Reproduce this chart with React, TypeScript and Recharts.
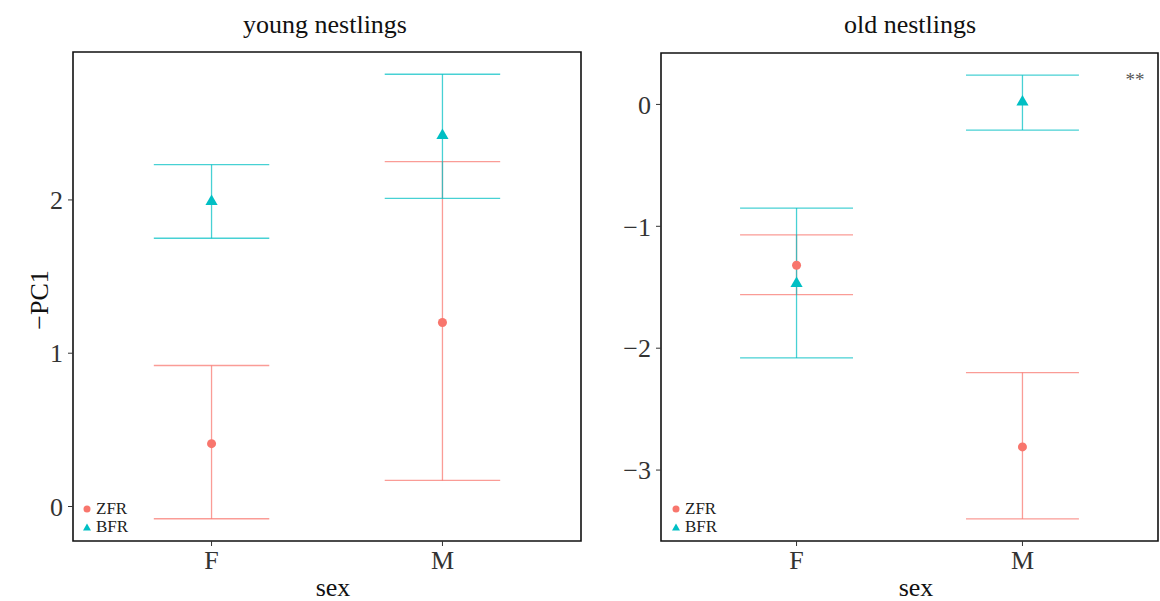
import React from "react";
import {
  ScatterChart,
  Scatter,
  XAxis,
  YAxis,
  ZAxis,
  ErrorBar,
  ReferenceArea,
  Legend,
} from "recharts";

const categories = ["F", "M"];
const categoryPositions = [1, 2];
const seriesNames = ["ZFR", "BFR"];

// young nestlings
const youngZfrMean = [0.41, 1.2];
const youngZfrLow = [-0.08, 0.17];
const youngZfrHigh = [0.92, 2.25];
const youngBfrMean = [1.99, 2.42];
const youngBfrLow = [1.75, 2.01];
const youngBfrHigh = [2.23, 2.82];
const youngTicks = [0, 1, 2];

// old nestlings
const oldZfrMean = [-1.32, -2.81];
const oldZfrLow = [-1.56, -3.4];
const oldZfrHigh = [-1.07, -2.2];
const oldBfrMean = [-1.47, 0.02];
const oldBfrLow = [-2.08, -0.21];
const oldBfrHigh = [-0.85, 0.24];
const oldTicks = [-3, -2, -1, 0];

const ZFR_COLOR = "#F8766D";
const BFR_COLOR = "#00BFC4";
const ZFR_LINE = "rgba(248,118,109,0.72)";
const BFR_LINE = "rgba(0,191,196,0.72)";
const FONT = "'Liberation Serif', 'DejaVu Serif', serif";

function build(mean: number[], low: number[], high: number[]) {
  return mean.map((m, i) => ({
    x: categoryPositions[i],
    y: m,
    err: [m - low[i], high[i] - m],
  }));
}

function expandDomain(lows: number[], highs: number[]): [number, number] {
  const mn = Math.min(...lows);
  const mx = Math.max(...highs);
  const pad = (mx - mn) * 0.05;
  return [mn - pad, mx + pad];
}

const fmt = (v: number) => (v < 0 ? "\u2212" + Math.abs(v) : String(v));

const LegendContent = (props: any) => {
  const payload = [...(props.payload || [])].sort(
    (a: any, b: any) => seriesNames.indexOf(a.value) - seriesNames.indexOf(b.value)
  );
  return (
    <div style={{ fontFamily: FONT, fontSize: 17, color: "#222", lineHeight: "18px" }}>
      {payload.map((entry: any, i: number) => (
        <div key={i} style={{ display: "flex", alignItems: "center", height: 18 }}>
          <svg width={12} height={12} style={{ marginRight: 3 }}>
            {entry.value === seriesNames[0] ? (
              <circle cx={6} cy={6} r={3.5} fill={ZFR_COLOR} />
            ) : (
              <polygon points="6,2.5 10,9.5 2,9.5" fill={BFR_COLOR} />
            )}
          </svg>
          <span>{entry.value}</span>
        </div>
      ))}
    </div>
  );
};

type PanelProps = {
  width: number;
  height: number;
  margin: { top: number; right: number; bottom: number; left: number };
  yWidth: number;
  zfr: any[];
  bfr: any[];
  domain: [number, number];
  ticks: number[];
  legendPos: { left: number; top: number };
};

function Panel(p: PanelProps) {
  const plotW = p.width - p.margin.left - p.margin.right - p.yWidth;
  const capHalf = (0.25 * plotW) / 2.2;
  const tickStyle = { fontSize: 26, fill: "#333", fontFamily: FONT };
  return (
    <ScatterChart width={p.width} height={p.height} margin={p.margin}>
      <XAxis
        type="number"
        dataKey="x"
        domain={[0.4, 2.6]}
        ticks={categoryPositions}
        tickFormatter={(v: number) => categories[v - 1]}
        allowDataOverflow
        axisLine={false}
        tickLine={{ stroke: "#333" }}
        tickSize={5}
        tickMargin={5}
        height={60}
        tick={tickStyle}
        interval={0}
      />
      <YAxis
        type="number"
        dataKey="y"
        domain={p.domain}
        ticks={p.ticks}
        tickFormatter={fmt}
        allowDataOverflow
        axisLine={false}
        tickLine={{ stroke: "#333" }}
        tickSize={5}
        tickMargin={5}
        width={p.yWidth}
        tick={tickStyle}
        interval={0}
      />
      <ZAxis range={[40, 40]} />
      <ReferenceArea
        x1={0.4}
        x2={2.6}
        y1={p.domain[0]}
        y2={p.domain[1]}
        fill="none"
        fillOpacity={0}
        stroke="#111"
        strokeWidth={1.6}
        ifOverflow="visible"
      />
      <Scatter
        name={seriesNames[0]}
        data={p.zfr}
        fill={ZFR_COLOR}
        shape="circle"
        legendType="circle"
        isAnimationActive={false}
      >
        <ErrorBar dataKey="err" direction="y" width={capHalf} stroke={ZFR_LINE} strokeWidth={1.3} />
      </Scatter>
      <Scatter
        name={seriesNames[1]}
        data={p.bfr}
        fill={BFR_COLOR}
        shape="triangle"
        legendType="triangle"
        isAnimationActive={false}
      >
        <ErrorBar dataKey="err" direction="y" width={capHalf} stroke={BFR_LINE} strokeWidth={1.3} />
      </Scatter>
      <Legend
        layout="vertical"
        align="center"
        verticalAlign="middle"
        content={LegendContent}
        wrapperStyle={{
          position: "absolute",
          left: p.legendPos.left,
          top: p.legendPos.top,
          width: "auto",
          height: "auto",
        }}
      />
    </ScatterChart>
  );
}

const textBase: React.CSSProperties = {
  position: "absolute",
  fontFamily: FONT,
  color: "#111",
  whiteSpace: "nowrap",
  lineHeight: 1,
};

export default function App() {
  const youngZfr = build(youngZfrMean, youngZfrLow, youngZfrHigh);
  const youngBfr = build(youngBfrMean, youngBfrLow, youngBfrHigh);
  const oldZfr = build(oldZfrMean, oldZfrLow, oldZfrHigh);
  const oldBfr = build(oldBfrMean, oldBfrLow, oldBfrHigh);
  const youngDomain = expandDomain(
    [...youngZfrLow, ...youngBfrLow],
    [...youngZfrHigh, ...youngBfrHigh]
  );
  const oldDomain = expandDomain([...oldZfrLow, ...oldBfrLow], [...oldZfrHigh, ...oldBfrHigh]);

  return (
    <div
      style={{
        position: "absolute",
        left: 0,
        top: 0,
        width: 1160,
        height: 601,
        background: "#fff",
        overflow: "hidden",
      }}
    >
      <div style={{ position: "absolute", left: 0, top: 0 }}>
        <Panel
          width={590}
          height={601}
          margin={{ top: 52, right: 9, bottom: 0, left: 0 }}
          yWidth={73}
          zfr={youngZfr}
          bfr={youngBfr}
          domain={youngDomain}
          ticks={youngTicks}
          legendPos={{ left: 81, top: 500 }}
        />
      </div>
      <div style={{ position: "absolute", left: 580, top: 0 }}>
        <Panel
          width={580}
          height={601}
          margin={{ top: 53, right: 2, bottom: 0, left: 0 }}
          yWidth={81}
          zfr={oldZfr}
          bfr={oldBfr}
          domain={oldDomain}
          ticks={oldTicks}
          legendPos={{ left: 90, top: 500 }}
        />
      </div>
      <div style={{ ...textBase, left: 325, top: 25, fontSize: 26, transform: "translate(-50%, -50%)" }}>
        young nestlings
      </div>
      <div style={{ ...textBase, left: 910, top: 25, fontSize: 26, transform: "translate(-50%, -50%)" }}>
        old nestlings
      </div>
      <div
        style={{
          ...textBase,
          left: 40,
          top: 300,
          fontSize: 26,
          transform: "translate(-50%, -50%) rotate(-90deg)",
        }}
      >
        {"\u2212PC1"}
      </div>
      <div style={{ ...textBase, left: 333, top: 588, fontSize: 26, transform: "translate(-50%, -50%)" }}>
        sex
      </div>
      <div style={{ ...textBase, left: 916, top: 588, fontSize: 26, transform: "translate(-50%, -50%)" }}>
        sex
      </div>
      <div
        style={{
          ...textBase,
          left: 1135,
          top: 79,
          fontSize: 19,
          color: "#555",
          transform: "translate(-50%, -50%)",
        }}
      >
        **
      </div>
    </div>
  );
}
